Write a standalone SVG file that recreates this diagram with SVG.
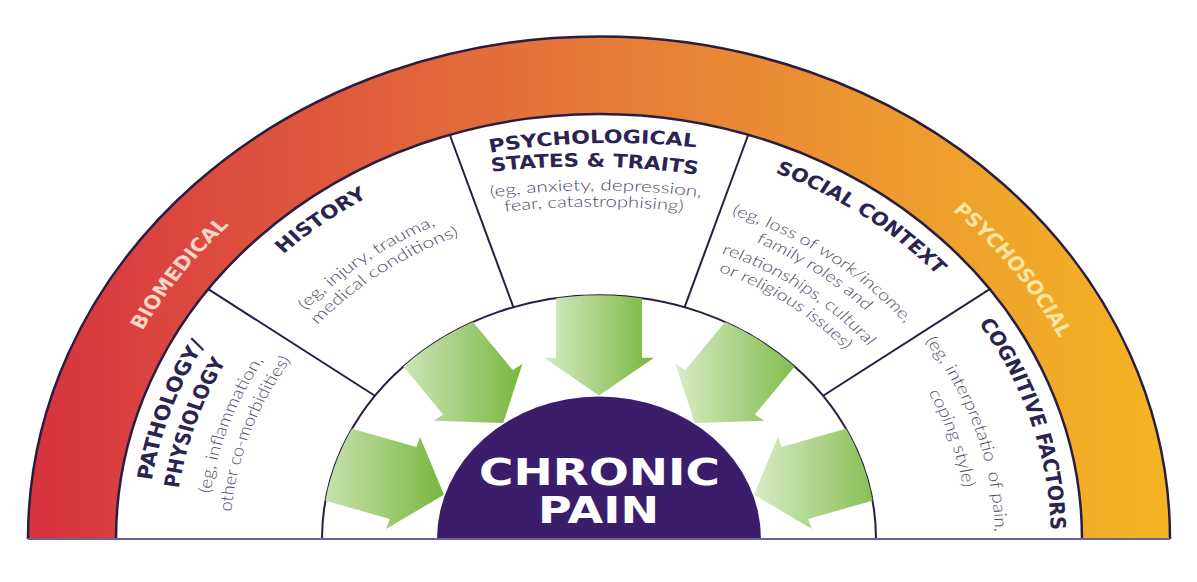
<svg xmlns="http://www.w3.org/2000/svg" xmlns:xlink="http://www.w3.org/1999/xlink" width="1197" height="582" viewBox="0 0 1197 582">
<style>
.title{font-family:"DejaVu Sans",sans-serif;font-weight:bold;font-size:21px;fill:#2b2350}
.desc{font-family:Lato,"Open Sans",Roboto,sans-serif;font-weight:300;font-size:17.5px;fill:#4e4868}
.bandtxt{font-family:"DejaVu Sans",sans-serif;font-weight:bold;font-size:21px}
.ln{fill:none;stroke:#2a1d42;stroke-width:2;vector-effect:non-scaling-stroke}
.arrow{fill:url(#ag)}
</style>
<defs>
<linearGradient id="bg" x1="0" y1="0" x2="1" y2="0">
<stop offset="0" stop-color="#d6323f"/>
<stop offset="0.12" stop-color="#db4540"/>
<stop offset="0.3" stop-color="#e05e3c"/>
<stop offset="0.5" stop-color="#e67a38"/>
<stop offset="0.72" stop-color="#ec9531"/>
<stop offset="0.86" stop-color="#efa62a"/>
<stop offset="1" stop-color="#f4b524"/>
</linearGradient>
<linearGradient id="ag" x1="0" y1="0" x2="1" y2="0">
<stop offset="0" stop-color="#d8ebc6"/>
<stop offset="1" stop-color="#78b73e"/>
</linearGradient>
<clipPath id="ringclip"><circle cx="0" cy="0" r="277"/></clipPath>
<path id="r514" d="M -506.19 89.26 A 514 514 0 1 1 506.19 89.26"/>
<path id="r452" d="M -445.13 78.49 A 452 452 0 1 1 445.13 78.49"/>
<path id="r424" d="M -417.56 73.63 A 424 424 0 1 1 417.56 73.63"/>
<path id="r396" d="M -389.98 68.77 A 396 396 0 1 1 389.98 68.77"/>
<path id="r392" d="M -386.05 68.07 A 392 392 0 1 1 386.05 68.07"/>
<path id="r372" d="M -366.35 64.60 A 372 372 0 1 1 366.35 64.60"/>
<path id="r369" d="M -363.39 64.08 A 369 369 0 1 1 363.39 64.08"/>
<path id="r347" d="M -341.73 60.26 A 347 347 0 1 1 341.73 60.26"/>
<path id="r326" d="M -321.54 56.70 A 326.5 326.5 0 1 1 321.54 56.70"/>
<path id="p1" d="M -109 -439 A 700 700 0 0 1 97.7 -445.1"/>
<path id="p2" d="M -107.3 -417.4 A 700 700 0 0 1 99.3 -413.6"/>
<path id="p3" d="M -108.3 -388.3 A 700 700 0 0 1 102.7 -388.3"/>
<path id="p4" d="M -94 -372 A 700 700 0 0 1 84.3 -372"/>
</defs>
<rect x="0" y="0" width="1197" height="582" fill="#ffffff"/>
<g transform="translate(599,539) scale(1,0.88)">
  <g id="outer-band">
    <path d="M -571 0 A 571 571 0 0 1 571 0 L 483 0 A 483 483 0 0 0 -483 0 Z" fill="url(#bg)"/>
    <path class="ln" d="M -571 0 A 571 571 0 0 1 571 0" style="stroke-width:2.5"/>
    <path class="ln" d="M -483 0 A 483 483 0 0 1 483 0" style="stroke-width:2.5"/>
    <text class="bandtxt" fill="#f8d5c6"><textPath xlink:href="#r514" startOffset="335.5" textLength="148.9" lengthAdjust="spacingAndGlyphs">BIOMEDICAL</textPath></text>
    <text class="bandtxt" fill="#fae6a0"><textPath xlink:href="#r514" startOffset="1286.4" textLength="181.7" lengthAdjust="spacingAndGlyphs">PSYCHOSOCIAL</textPath></text>
  </g>
  <g id="dividers">
    <path class="ln" d="M -277 0 A 277 277 0 0 1 277 0"/>
    <line class="ln" x1="-390.76" y1="-283.90" x2="-224.10" y2="-162.82"/>
    <line class="ln" x1="-149.26" y1="-459.36" x2="-85.60" y2="-263.44"/>
    <line class="ln" x1="149.26" y1="-459.36" x2="85.60" y2="-263.44"/>
    <line class="ln" x1="390.76" y1="-283.90" x2="224.10" y2="-162.82"/>
  </g>
  <g id="sec-pathology">
    <text class="title"><textPath xlink:href="#r452" startOffset="145.6" textLength="165.2" lengthAdjust="spacingAndGlyphs">PATHOLOGY/</textPath></text>
    <text class="title"><textPath xlink:href="#r424" startOffset="131.7" textLength="152.4" lengthAdjust="spacingAndGlyphs">PHYSIOLOGY</textPath></text>
    <text class="desc"><textPath xlink:href="#r392" startOffset="120.4" textLength="161.5" lengthAdjust="spacingAndGlyphs">(eg, inflammation,</textPath></text>
    <text class="desc"><textPath xlink:href="#r369" startOffset="95.3" textLength="184.5" lengthAdjust="spacingAndGlyphs">other co-morbidities)</textPath></text>
  </g>
  <g id="sec-history">
    <text class="title"><textPath xlink:href="#r452" startOffset="439.4" textLength="106.5" lengthAdjust="spacingAndGlyphs">HISTORY</textPath></text>
    <text class="desc"><textPath xlink:href="#r392" startOffset="352.3" textLength="163.5" lengthAdjust="spacingAndGlyphs">(eg, injury, trauma,</textPath></text>
    <text class="desc"><textPath xlink:href="#r372" startOffset="329.8" textLength="176" lengthAdjust="spacingAndGlyphs">medical conditions)</textPath></text>
  </g>
  <g id="sec-psychological">
    <text class="title"><textPath xlink:href="#p1" startOffset="0" textLength="207" lengthAdjust="spacingAndGlyphs">PSYCHOLOGICAL</textPath></text>
    <text class="title"><textPath xlink:href="#p2" startOffset="0" textLength="206.6" lengthAdjust="spacingAndGlyphs">STATES &amp; TRAITS</textPath></text>
    <text class="desc"><textPath xlink:href="#p3" startOffset="0" textLength="211" lengthAdjust="spacingAndGlyphs">(eg, anxiety, depression,</textPath></text>
    <text class="desc"><textPath xlink:href="#p4" startOffset="0" textLength="178.3" lengthAdjust="spacingAndGlyphs">fear, catastrophising)</textPath></text>
  </g>
  <g id="sec-social">
    <text class="title"><textPath xlink:href="#r452" startOffset="969.5" textLength="201.2" lengthAdjust="spacingAndGlyphs">SOCIAL CONTEXT</textPath></text>
    <text class="desc"><textPath xlink:href="#r392" startOffset="819" textLength="215.9" lengthAdjust="spacingAndGlyphs">(eg, loss of work/income,</textPath></text>
    <text class="desc"><textPath xlink:href="#r372" startOffset="810.9" textLength="135.7" lengthAdjust="spacingAndGlyphs">family roles and</textPath></text>
    <text class="desc"><textPath xlink:href="#r347" startOffset="730.4" textLength="182.9" lengthAdjust="spacingAndGlyphs">relationships, cultural</textPath></text>
    <text class="desc"><textPath xlink:href="#r326" startOffset="691.8" textLength="156.1" lengthAdjust="spacingAndGlyphs">or religious issues)</textPath></text>
  </g>
  <g id="sec-cognitive">
    <text class="title"><textPath xlink:href="#r452" startOffset="1239.3" textLength="249.3" lengthAdjust="spacingAndGlyphs">COGNITIVE FACTORS</textPath></text>
    <text class="desc"><textPath xlink:href="#r396" startOffset="1073.4" textLength="231.5" lengthAdjust="spacingAndGlyphs">(eg, interpretatio&#160; of pain,</textPath></text>
    <text class="desc"><textPath xlink:href="#r369" startOffset="1050.4" textLength="114.6" lengthAdjust="spacingAndGlyphs">coping style)</textPath></text>
  </g>
  <g id="arrows" clip-path="url(#ringclip)">
    <polygon class="arrow" points="-298.62,-51.80 -209.22,-22.75 -212.93,-11.34 -155.03,-50.37 -178.93,-115.96 -182.64,-104.55 -272.04,-133.60"/>
    <polygon class="arrow" points="-211.13,-217.42 -155.88,-141.37 -165.59,-134.32 -95.81,-131.87 -76.59,-198.98 -86.30,-191.93 -141.55,-267.98"/>
    <polygon class="arrow" points="-43,-300 -43,-206 -55,-206 0,-163 55,-206 43,-206 43,-300"/>
    <polygon class="arrow" points="211.13,-217.42 155.88,-141.37 165.59,-134.32 95.81,-131.87 76.59,-198.98 86.30,-191.93 141.55,-267.98"/>
    <polygon class="arrow" points="298.62,-51.80 209.22,-22.75 212.93,-11.34 155.03,-50.37 178.93,-115.96 182.64,-104.55 272.04,-133.60"/>
  </g>
  <g id="chronic-pain-shape">
    <path d="M -162 0 A 162 162 0 0 1 162 0 Z" fill="#3b1e6b"/>
  </g>
  <line x1="-571" y1="0" x2="571" y2="0" stroke="#6f6190" stroke-width="2" vector-effect="non-scaling-stroke"/>
</g>
<g id="chronic-pain" font-family="'DejaVu Sans',sans-serif" font-weight="bold" font-size="37" fill="#ffffff" text-anchor="middle">
  <text x="599.5" y="485" textLength="241" lengthAdjust="spacingAndGlyphs">CHRONIC</text>
  <text x="598.5" y="523" textLength="121" lengthAdjust="spacingAndGlyphs">PAIN</text>
</g>
</svg>
